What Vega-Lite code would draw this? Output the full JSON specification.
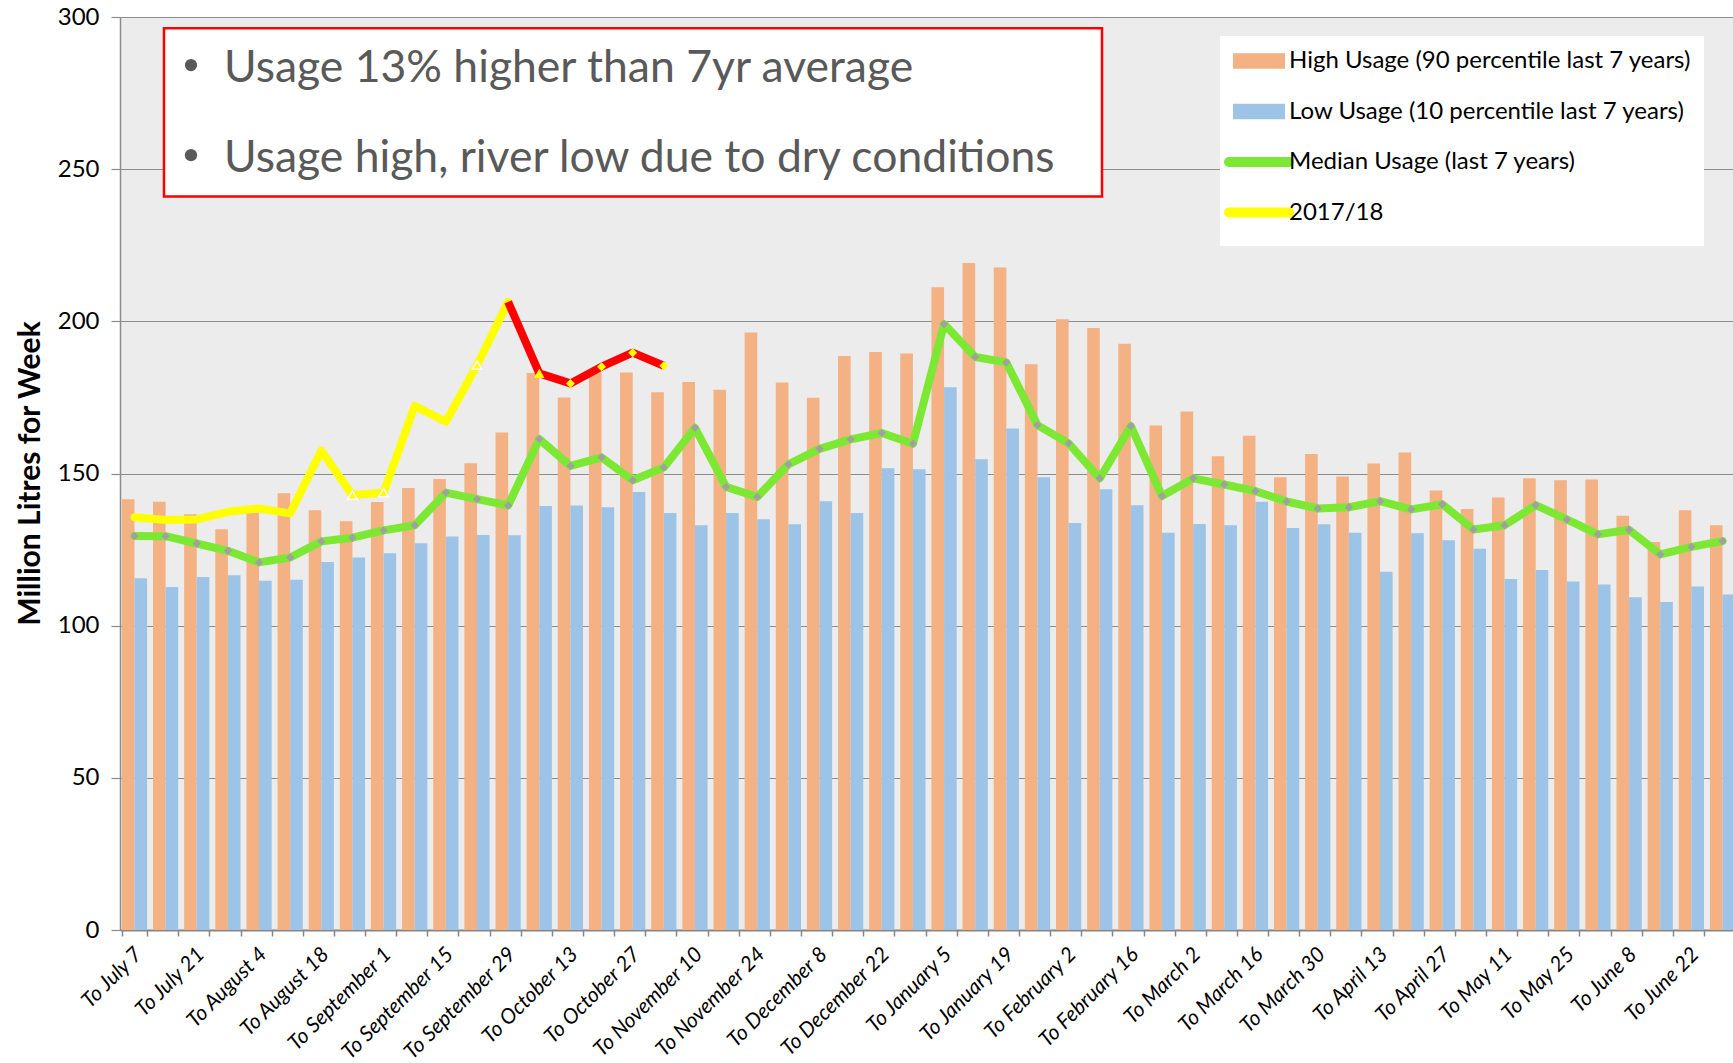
{
  "$schema": "https://vega.github.io/schema/vega-lite/v6.json",
  "width": 1617,
  "height": 913,
  "autosize": {"type": "none"},
  "padding": {"left": 120, "top": 17, "right": -4, "bottom": 133},
  "background": "white",
  "config": {
    "view": {"fill": "#ECECEC", "stroke": null},
    "font": "Lato"
  },
  "datasets": {
    "weeks": [
      {"week": "To July 7", "high": 141.5, "low": 115.6, "median": 129.5},
      {"week": "To July 14", "high": 140.7, "low": 112.7, "median": 129.4},
      {"week": "To July 21", "high": 136.6, "low": 116.0, "median": 127.0},
      {"week": "To July 28", "high": 131.7, "low": 116.6, "median": 124.6},
      {"week": "To August 4", "high": 137.0, "low": 114.8, "median": 120.8},
      {"week": "To August 11", "high": 143.5, "low": 115.1, "median": 122.4},
      {"week": "To August 18", "high": 137.9, "low": 120.9, "median": 127.7},
      {"week": "To August 25", "high": 134.3, "low": 122.4, "median": 128.9},
      {"week": "To September 1", "high": 140.6, "low": 123.8, "median": 131.3},
      {"week": "To September 8", "high": 145.2, "low": 127.1, "median": 133.0},
      {"week": "To September 15", "high": 148.2, "low": 129.3, "median": 143.7},
      {"week": "To September 22", "high": 153.4, "low": 129.8, "median": 141.6},
      {"week": "To September 29", "high": 163.5, "low": 129.7, "median": 139.5},
      {"week": "To October 6", "high": 183.0, "low": 139.3, "median": 161.3},
      {"week": "To October 13", "high": 175.0, "low": 139.5, "median": 152.5},
      {"week": "To October 20", "high": 183.2, "low": 138.9, "median": 155.3},
      {"week": "To October 27", "high": 183.2, "low": 143.9, "median": 147.8},
      {"week": "To November 3", "high": 176.7, "low": 137.0, "median": 152.0},
      {"week": "To November 10", "high": 180.1, "low": 133.0, "median": 165.0},
      {"week": "To November 17", "high": 177.5, "low": 137.0, "median": 145.6},
      {"week": "To November 24", "high": 196.3, "low": 135.0, "median": 142.3},
      {"week": "To December 1", "high": 179.9, "low": 133.3, "median": 153.0},
      {"week": "To December 8", "high": 174.9, "low": 140.9, "median": 158.1},
      {"week": "To December 15", "high": 188.6, "low": 137.0, "median": 161.2},
      {"week": "To December 22", "high": 189.9, "low": 151.7, "median": 163.3},
      {"week": "To December 29", "high": 189.4, "low": 151.4, "median": 159.8},
      {"week": "To January 5", "high": 211.2, "low": 178.3, "median": 199.1},
      {"week": "To January 12", "high": 219.2, "low": 154.7, "median": 188.3},
      {"week": "To January 19", "high": 217.7, "low": 164.8, "median": 186.5},
      {"week": "To January 26", "high": 185.9, "low": 148.8, "median": 165.9},
      {"week": "To February 2", "high": 200.7, "low": 133.7, "median": 159.9},
      {"week": "To February 9", "high": 197.8, "low": 144.8, "median": 148.4},
      {"week": "To February 16", "high": 192.6, "low": 139.6, "median": 165.6},
      {"week": "To February 23", "high": 165.8, "low": 130.5, "median": 142.6},
      {"week": "To March 2", "high": 170.4, "low": 133.4, "median": 148.4},
      {"week": "To March 9", "high": 155.7, "low": 133.0, "median": 146.4},
      {"week": "To March 16", "high": 162.4, "low": 140.7, "median": 144.2},
      {"week": "To March 23", "high": 148.8, "low": 132.1, "median": 140.8},
      {"week": "To March 30", "high": 156.4, "low": 133.3, "median": 138.5},
      {"week": "To April 6", "high": 149.0, "low": 130.5, "median": 138.9},
      {"week": "To April 13", "high": 153.3, "low": 117.7, "median": 140.9},
      {"week": "To April 20", "high": 156.9, "low": 130.4, "median": 138.2},
      {"week": "To April 27", "high": 144.4, "low": 128.1, "median": 139.9},
      {"week": "To May 4", "high": 138.3, "low": 125.3, "median": 131.6},
      {"week": "To May 11", "high": 142.1, "low": 115.3, "median": 133.0},
      {"week": "To May 18", "high": 148.4, "low": 118.3, "median": 139.6},
      {"week": "To May 25", "high": 147.8, "low": 114.5, "median": 134.9},
      {"week": "To June 1", "high": 148.0, "low": 113.5, "median": 130.0},
      {"week": "To June 8", "high": 136.1, "low": 109.3, "median": 131.5},
      {"week": "To June 15", "high": 127.5, "low": 107.8, "median": 123.4},
      {"week": "To June 22", "high": 137.9, "low": 112.9, "median": 125.9},
      {"week": "To June 29", "high": 133.0, "low": 110.2, "median": 127.8}
    ],
    "cur_a": [
      {"week": "To July 7", "usage": 135.6},
      {"week": "To July 14", "usage": 134.7},
      {"week": "To July 21", "usage": 134.9},
      {"week": "To July 28", "usage": 137.4},
      {"week": "To August 4", "usage": 138.5},
      {"week": "To August 11", "usage": 136.9},
      {"week": "To August 18", "usage": 157.5},
      {"week": "To August 25", "usage": 142.9},
      {"week": "To September 1", "usage": 143.7},
      {"week": "To September 8", "usage": 172.2},
      {"week": "To September 15", "usage": 167.0},
      {"week": "To September 22", "usage": 185.6},
      {"week": "To September 29", "usage": 206.4}
    ],
    "cur_b": [
      {"week": "To September 29", "usage": 206.4},
      {"week": "To October 6", "usage": 182.9},
      {"week": "To October 13", "usage": 179.6},
      {"week": "To October 20", "usage": 185.1},
      {"week": "To October 27", "usage": 189.7},
      {"week": "To November 3", "usage": 185.4}
    ]
  },
  "layer": [
    {
      "data": {"name": "weeks"},
      "encoding": {
        "x": {
          "field": "week",
          "type": "nominal",
          "sort": null,
          "scale": {
            "domain": ["To July 7","To July 14","To July 21","To July 28","To August 4","To August 11","To August 18","To August 25","To September 1","To September 8","To September 15","To September 22","To September 29","To October 6","To October 13","To October 20","To October 27","To November 3","To November 10","To November 17","To November 24","To December 1","To December 8","To December 15","To December 22","To December 29","To January 5","To January 12","To January 19","To January 26","To February 2","To February 9","To February 16","To February 23","To March 2","To March 9","To March 16","To March 23","To March 30","To April 6","To April 13","To April 20","To April 27","To May 4","To May 11","To May 18","To May 25","To June 1","To June 8","To June 15","To June 22","To June 29"],
            "paddingInner": 0.19,
            "paddingOuter": 0.06
          },
          "axis": {
            "title": null,
            "labelAngle": -45,
            "labelAlign": "right",
            "labelBaseline": "middle",
            "labelFont": "Lato",
            "labelFontStyle": "italic",
            "labelFontSize": 21,
            "labelColor": "black",
            "labelPadding": 15,
            "labelOffset": 4,
            "labelOverlap": false,
            "labelBound": false,
            "labelFlush": false,
            "labelLimit": 300,
            "labelExpr": "indexof(['To July 7','To July 21','To August 4','To August 18','To September 1','To September 15','To September 29','To October 13','To October 27','To November 10','To November 24','To December 8','To December 22','To January 5','To January 19','To February 2','To February 16','To March 2','To March 16','To March 30','To April 13','To April 27','To May 11','To May 25','To June 8','To June 22'], datum.value) >= 0 ? datum.value : ''",
            "tickBand": "extent",
            "ticks": true,
            "tickSize": 6,
            "tickColor": "#868686",
            "tickWidth": 1.5,
            "domainColor": "#868686",
            "domainWidth": 2,
            "grid": false
          }
        }
      },
      "layer": [
        {
          "transform": [{"fold": ["high", "low"], "as": ["series", "value"]}],
          "mark": {"type": "bar"},
          "encoding": {
            "xOffset": {"field": "series", "sort": ["high", "low"]},
            "y": {
              "field": "value",
              "type": "quantitative",
              "title": "Million Litres for Week",
              "scale": {"domain": [0, 300], "nice": false},
              "axis": {
                "values": [0, 50, 100, 150, 200, 250, 300],
                "grid": true,
                "gridColor": "#8C8C8C",
                "gridWidth": 1.2,
                "tickColor": "#8C8C8C",
                "tickSize": 9,
                "tickWidth": 1.2,
                "domainColor": "#8C8C8C",
                "domainWidth": 1.5,
                "labelFont": "Lato",
                "labelFontSize": 24,
                "labelColor": "black",
                "labelPadding": 12,
                "titleFont": "Lato",
                "titleFontSize": 30,
                "titleFontWeight": "bold",
                "titleColor": "black",
                "titleAngle": -90,
                "titleX": -81,
                "titleY": 456,
                "titleAlign": "center",
                "titleBaseline": "alphabetic"
              }
            },
            "color": {
              "field": "series",
              "type": "nominal",
              "scale": {
                "domain": ["high", "low", "median", "y2017"],
                "range": ["#F4B183", "#9DC3E6", "#7DE834", "#FFFF00"]
              },
              "legend": {
                "orient": "none",
                "legendX": 1100,
                "legendY": 19,
                "title": null,
                "fillColor": "white",
                "padding": 13,
                "rowPadding": 10.5,
                "gridAlign": "all",
                "symbolSize": 100,
                "symbolOffset": 14,
                "labelOffset": 18,
                "labelFont": "Lato",
                "labelFontSize": 24,
                "labelColor": "black",
                "labelLimit": 700,
                "labelExpr": "datum.value == 'high' ? 'High Usage (90 percentile last 7 years)' : datum.value == 'low' ? 'Low Usage (10 percentile last 7 years)' : datum.value == 'median' ? 'Median Usage (last 7 years)' : '2017/18'",
                "encode": {
                  "symbols": {
                    "update": {
                      "shape": {"signal": "(datum.value == 'median' || datum.value == 'y2017') ? 'M-6,0H6' : 'M-5.2,-1.56H5.2V1.56H-5.2Z'"},
                      "fill": {"signal": "datum.value == 'high' ? '#F4B183' : datum.value == 'low' ? '#9DC3E6' : 'transparent'"},
                      "stroke": {"signal": "datum.value == 'median' ? '#7DE834' : datum.value == 'y2017' ? '#FFFF00' : 'transparent'"},
                      "strokeWidth": {"signal": "(datum.value == 'median' || datum.value == 'y2017') ? 10 : 0"},
                      "strokeCap": {"value": "round"},
                      "opacity": {"value": 1},
                      "fillOpacity": {"value": 1},
                      "strokeOpacity": {"value": 1}
                    }
                  }
                }
              }
            }
          }
        },
        {
          "mark": {"type": "line", "strokeWidth": 8, "strokeJoin": "round", "strokeCap": "round"},
          "encoding": {
            "y": {"field": "median", "type": "quantitative", "title": "Million Litres for Week"},
            "color": {"datum": "median"}
          }
        },
        {
          "mark": {"type": "point", "shape": "diamond", "filled": true, "color": "#A0A0A0", "size": 70, "opacity": 1},
          "encoding": {
            "y": {"field": "median", "type": "quantitative", "title": "Million Litres for Week"}
          }
        },
        {
          "data": {"name": "cur_a"},
          "mark": {"type": "line", "strokeWidth": 8, "strokeJoin": "round", "strokeCap": "round"},
          "encoding": {
            "y": {"field": "usage", "type": "quantitative", "title": "Million Litres for Week"},
            "color": {"datum": "y2017"}
          }
        },
        {
          "data": {"name": "cur_a"},
          "transform": [{"filter": {"field": "week", "oneOf": ["To August 25", "To September 1", "To September 22"]}}],
          "mark": {"type": "point", "shape": "triangle-up", "filled": true, "fill": "#FFFF00", "stroke": "white", "strokeWidth": 1.5, "size": 90, "opacity": 1},
          "encoding": {
            "y": {"field": "usage", "type": "quantitative", "title": "Million Litres for Week"}
          }
        },
        {
          "data": {"name": "cur_b"},
          "mark": {"type": "line", "color": "#FF0000", "strokeWidth": 8, "strokeJoin": "round"},
          "encoding": {
            "y": {"field": "usage", "type": "quantitative", "title": "Million Litres for Week"}
          }
        },
        {
          "data": {"name": "cur_b"},
          "transform": [{"filter": {"field": "week", "oneOf": ["To October 13", "To October 20", "To October 27", "To November 3"]}}],
          "mark": {"type": "point", "shape": "diamond", "filled": true, "color": "#FFFF00", "size": 80, "opacity": 1},
          "encoding": {
            "y": {"field": "usage", "type": "quantitative", "title": "Million Litres for Week"}
          }
        },
        {
          "data": {"name": "cur_b"},
          "transform": [{"filter": {"field": "week", "equal": "To October 6"}}],
          "mark": {"type": "point", "shape": "triangle-up", "filled": true, "color": "#FFFF00", "size": 110, "opacity": 1},
          "encoding": {
            "y": {"field": "usage", "type": "quantitative", "title": "Million Litres for Week"}
          }
        }
      ]
    },
    {
      "data": {"values": [{}]},
      "layer": [
        {
          "mark": {"type": "rect", "fill": "white", "stroke": "#FF0000", "strokeWidth": 2.5},
          "encoding": {
            "x": {"datum": 0.0272, "type": "quantitative", "scale": {"domain": [0, 1], "nice": false, "zero": false}, "axis": null},
            "x2": {"datum": 0.6073},
            "y": {"datum": 296.3, "type": "quantitative", "axis": null},
            "y2": {"datum": 241.0}
          }
        },
        {
          "mark": {"type": "point", "shape": "circle", "filled": true, "color": "#595959", "size": 150, "opacity": 1},
          "encoding": {
            "x": {"datum": 0.0439, "type": "quantitative", "axis": null},
            "y": {"datum": 284.2, "type": "quantitative", "axis": null}
          }
        },
        {
          "mark": {"type": "point", "shape": "circle", "filled": true, "color": "#595959", "size": 150, "opacity": 1},
          "encoding": {
            "x": {"datum": 0.0439, "type": "quantitative", "axis": null},
            "y": {"datum": 254.6, "type": "quantitative", "axis": null}
          }
        },
        {
          "mark": {"type": "text", "text": "Usage 13% higher than 7yr average", "align": "left", "baseline": "alphabetic", "font": "Lato", "fontSize": 44.5, "color": "#595959"},
          "encoding": {
            "x": {"datum": 0.0643, "type": "quantitative", "axis": null},
            "y": {"datum": 278.7, "type": "quantitative", "axis": null}
          }
        },
        {
          "mark": {"type": "text", "text": "Usage high, river low due to dry conditions", "align": "left", "baseline": "alphabetic", "font": "Lato", "fontSize": 44.5, "color": "#595959"},
          "encoding": {
            "x": {"datum": 0.0643, "type": "quantitative", "axis": null},
            "y": {"datum": 249.1, "type": "quantitative", "axis": null}
          }
        }
      ]
    }
  ],
  "resolve": {"scale": {"x": "independent"}, "axis": {"y": "independent"}}
}
